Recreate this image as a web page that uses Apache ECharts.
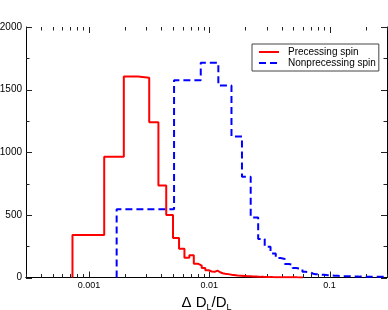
<!DOCTYPE html>
<html><head><meta charset="utf-8">
<script src="https://cdn.jsdelivr.net/npm/echarts@6/dist/echarts.min.js"></script>
<style>html,body{margin:0;padding:0;background:#fff}#c{width:388px;height:310px}</style>
</head><body><div id="c"></div>
<script>
// ---- data ----
const seriesNames = ['Precessing spin', 'Nonprecessing spin'];
const xTickValues = [0.001, 0.01, 0.1];
const xTickLabels = ['0.001', '0.01', '0.1'];
const xMin = 0.0003, xMax = 0.3;
const yMin = 0, yMax = 2000, yStep = 500;

// Precessing spin: linear bins (start, width), counts per bin
const redBinStart = 0.00073, redBinWidth = 0.00061;
const redCounts = [
  340, 965, 1605, 1595, 1240, 735, 500, 315, 230, 157,
  178, 110, 95, 75, 58, 48, 45, 55, 42, 34,
  30, 27, 25, 22, 20, 18, 16, 15, 14, 13,
  12, 11, 10, 9, 9, 8, 8, 7, 7, 6,
  6, 6, 5, 5, 5, 4, 4, 4, 4, 3,
  3, 3, 3, 3, 2, 2, 2, 2, 2, 2,
  2, 2, 2, 1, 1, 1, 1, 1, 1, 1,
  1, 1, 1, 1, 1, 1, 1, 1, 1, 1,
  1, 1, 1, 1, 1, 0, 1, 0, 1, 0,
  0, 1, 0, 0, 1, 0, 0
];
// Nonprecessing spin
const blueBinStart = 0.0017, blueBinWidth = 0.0034;
const blueCounts = [
  545, 1575, 1715, 1532, 1125, 805, 480, 308, 245, 192,
  155, 148, 108, 102, 76, 72, 68, 46, 44, 40,
  30, 26, 25, 24, 22, 21, 20, 18, 17, 16,
  15, 14, 13, 13, 12, 12, 11, 11, 10, 10,
  10, 9, 9, 9, 9, 8, 8, 8, 8, 8,
  8, 7, 7, 7, 7, 7, 7, 7, 6, 6,
  6, 6, 6, 6, 6, 6, 6, 5, 5, 5,
  5, 5, 5, 5, 5, 5, 5, 5, 5, 5,
  5, 5, 5, 5, 5, 5, 5, 5
];

// ---- build ----
function histSteps(start, width, counts) {
  const pts = [[start, 0]];
  counts.forEach((c, i) => pts.push([start + width * i, c]));
  const end = start + width * counts.length;
  pts.push([end, counts[counts.length - 1]]);
  pts.push([end, 0]);
  return pts;
}
// log-axis tick marks: [value, length]
const xTicks = [];
for (let d = -4; d <= -1; d++) {
  for (let m = 1; m <= 9; m++) {
    const v = m * Math.pow(10, d);
    if (v >= xMin * 0.999 && v <= xMax * 1.001) xTicks.push([v, m === 1 ? 6 : 3.5]);
  }
}
// y tick marks: major every yStep, minor halfway
const yTicks = [];
for (let v = yMin; v <= yMax; v += yStep / 2) yTicks.push([v, (v % yStep === 0) ? 6 : 3.5]);

const FONT = 'Liberation Sans';
const AX = '#000';
const TICK = '#222';

const chart = echarts.init(document.getElementById('c'), null, { renderer: 'canvas' });
chart.setOption({
  animation: false,
  backgroundColor: '#fff',
  grid: { left: 26, top: 27, width: 361, height: 250.5, containLabel: false, outerBoundsMode: 'none' },
  legend: {
    data: seriesNames,
    orient: 'vertical', left: 252, top: 44,
    padding: [3, 3, 3, 6], itemGap: 1,
    itemWidth: 20, itemHeight: 10,
    itemStyle: { opacity: 0 },
    borderColor: '#444', borderWidth: 1, backgroundColor: '#fff',
    textStyle: { fontSize: 10, fontFamily: FONT, color: '#000', padding: [0, 0, 0, 4] }
  },
  xAxis: [
    {
      type: 'log', logBase: 10, min: xMin, max: xMax, position: 'bottom',
      axisLine: { show: true, lineStyle: { color: AX, width: 1 } },
      axisTick: { show: false },
      axisLabel: {
        show: true, margin: 4, fontSize: 9, color: '#000', fontFamily: FONT,
        customValues: xTickValues,
        formatter: v => { const i = xTickValues.findIndex(t => Math.abs(t - v) / t < 1e-6); return i >= 0 ? xTickLabels[i] : ''; }
      },
      splitLine: { show: false },
      name: '{a|Δ D}{s|L}{a|/D}{s|L}', nameLocation: 'middle', nameGap: 7,
      nameTextStyle: {
        color: '#000', fontFamily: FONT,
        rich: {
          a: { fontSize: 15, fontFamily: FONT, color: '#000' },
          s: { fontSize: 9, fontFamily: FONT, color: '#000', verticalAlign: 'bottom', padding: [9, 0, 0, 0] }
        }
      }
    },
    {
      type: 'log', logBase: 10, min: xMin, max: xMax, position: 'top',
      axisLine: { show: true, lineStyle: { color: AX, width: 1 } },
      axisTick: { show: false }, axisLabel: { show: false }, splitLine: { show: false }
    }
  ],
  yAxis: [
    {
      type: 'value', position: 'left', min: yMin, max: yMax, interval: yStep,
      axisLine: { show: true, lineStyle: { color: AX, width: 1 } },
      axisTick: { show: false },
      axisLabel: { margin: 4, fontSize: 10, color: '#000', fontFamily: FONT, formatter: v => String(v) },
      splitLine: { show: false }
    },
    {
      type: 'value', position: 'right', min: yMin, max: yMax, interval: yStep,
      axisLine: { show: true, lineStyle: { color: AX, width: 1 } },
      axisTick: { show: false },
      axisLabel: { show: false },
      splitLine: { show: false }
    }
  ],
  series: [
    {
      name: seriesNames[1], type: 'line', step: 'end', xAxisIndex: 0, yAxisIndex: 0,
      showSymbol: false, symbol: 'none', z: 2,
      lineStyle: { color: '#0000ff', width: 2, type: [7, 4] },
      itemStyle: { color: '#0000ff' },
      data: histSteps(blueBinStart, blueBinWidth, blueCounts)
    },
    {
      name: seriesNames[0], type: 'line', step: 'end', xAxisIndex: 0, yAxisIndex: 0,
      showSymbol: false, symbol: 'none', z: 3,
      lineStyle: { color: '#ff0000', width: 2 },
      itemStyle: { color: '#ff0000' },
      data: histSteps(redBinStart, redBinWidth, redCounts)
    },
    {
      name: 'xticks', type: 'custom', xAxisIndex: 0, yAxisIndex: 0, silent: true, clip: false, z: 1,
      data: xTicks,
      renderItem: (params, api) => {
        const x = Math.round(api.coord([api.value(0), 1])[0]) + 0.5;
        const len = api.value(1);
        const cs = params.coordSys;
        const yb = cs.y + cs.height, yt = cs.y;
        const st = { stroke: TICK, lineWidth: 1 };
        return {
          type: 'group', children: [
            { type: 'line', shape: { x1: x, y1: yb, x2: x, y2: yb - len }, style: st },
            { type: 'line', shape: { x1: x, y1: yt, x2: x, y2: yt + len }, style: st }
          ]
        };
      }
    },
    {
      name: 'yticks', type: 'custom', xAxisIndex: 0, yAxisIndex: 0, silent: true, clip: false, z: 1,
      encode: { x: -1, y: 0 },
      data: yTicks,
      renderItem: (params, api) => {
        const y = Math.round(api.coord([xMin, api.value(0)])[1]) + 0.5;
        const len = api.value(1);
        const cs = params.coordSys;
        const xl = cs.x, xr = cs.x + cs.width;
        const st = { stroke: TICK, lineWidth: 1 };
        return {
          type: 'group', children: [
            { type: 'line', shape: { x1: xl, y1: y, x2: xl + len, y2: y }, style: st },
            { type: 'line', shape: { x1: xr, y1: y, x2: xr - len, y2: y }, style: st }
          ]
        };
      }
    }
  ]
});
</script>
</body></html>
